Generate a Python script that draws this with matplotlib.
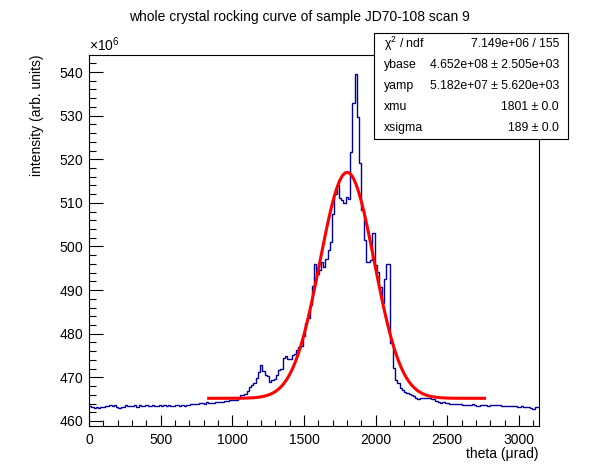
import numpy as np
import matplotlib
matplotlib.use("Agg")
import matplotlib.pyplot as plt
from matplotlib.patches import Rectangle
from matplotlib.ticker import MultipleLocator, ScalarFormatter

# -----------------------
# DATA
# -----------------------

title = "whole crystal rocking curve of sample JD70-108 scan 9"

theta_min = 0.0
theta_max = 3140.0

# bin contents, in units of 1e6 (arb. units)
intensity = [
    463.4, 463.3, 462.9, 463.1, 463.0, 463.3, 463.1, 463.4, 463.4, 463.6,
    463.4, 463.6, 463.3, 462.9, 463.3, 463.2, 463.7, 463.4, 463.5, 463.5,
    463.6, 463.3, 463.6, 463.5, 463.4, 463.7, 463.5, 463.4, 463.6, 463.5,
    463.4, 463.6, 463.5, 463.7, 463.4, 463.6, 463.5, 463.4, 463.7, 463.6,
    463.5, 463.6, 463.4, 463.7, 463.6, 463.8, 463.8, 463.9, 463.8, 464.1,
    464.1, 464.0, 464.3, 464.1, 464.2, 464.2, 464.3, 464.3, 464.4, 464.3,
    464.5, 464.5, 464.7, 464.7, 464.9, 464.9, 465.2, 466.0, 466.0, 466.3,
    466.8, 467.9, 468.3, 468.8, 469.8, 471.2, 472.8, 471.5, 470.5, 470.4,
    469.0, 469.5, 469.6, 470.5, 471.7, 472.0, 474.5, 474.9, 474.2, 474.2,
    475.2, 475.4, 476.3, 477.0, 477.2, 479.5, 482.4, 483.6, 486.6, 491.0,
    496.0, 493.6, 494.5, 496.4, 495.4, 497.1, 499.1, 501.0, 507.4, 512.0,
    514.1, 511.2, 510.7, 509.9, 511.4, 511.0, 521.6, 532.9, 539.5, 529.8,
    519.1, 508.4, 501.5, 496.5, 496.5, 496.9, 503.0, 495.8, 494.2, 490.8,
    487.0, 492.5, 496.0, 496.0, 477.8, 472.1, 469.5, 468.6, 467.5, 467.2,
    466.6, 466.4, 466.1, 466.0, 465.7, 465.2, 465.0, 465.2, 465.3, 465.2,
    465.3, 465.2, 465.0, 465.0, 464.6, 464.4, 464.2, 464.3, 464.1, 464.2,
    463.9, 464.0, 463.9, 464.0, 463.8, 463.8, 463.7, 463.6, 463.6, 463.6,
    463.8, 463.7, 463.4, 463.5, 463.6, 463.6, 463.6, 463.5, 463.7, 463.6,
    463.6, 463.7, 463.6, 463.4, 463.5, 463.4, 463.4, 463.5, 463.4, 463.5,
    463.3, 463.3, 463.4, 463.2, 463.3, 463.2, 462.9, 462.8, 463.1, 463.3,
]

# fit result (gaussian on a flat base), as printed in the stats box
fit_range = [835.0, 2760.0]
chi2, ndf = 7.149e+06, 155
ybase, ybase_err = 4.652e+08, 2.505e+03
yamp, yamp_err = 5.182e+07, 5.620e+03
xmu, xmu_err = 1801.0, 0.0
xsigma, xsigma_err = 189.0, 0.0

# -----------------------
# PLOT
# -----------------------

plt.rcParams['font.family'] = ['Liberation Sans', 'DejaVu Sans']
plt.rcParams['mathtext.fontset'] = 'custom'
plt.rcParams['mathtext.rm'] = 'Liberation Sans'
plt.rcParams['mathtext.it'] = 'Liberation Sans:italic'

W, H = 598, 474
fig = plt.figure(figsize=(W / 100, H / 100), dpi=100)
ax = fig.add_axes([89 / W, (H - 426) / H, (539 - 89) / W, (426 - 55) / H])

edges = np.linspace(theta_min, theta_max, len(intensity) + 1)
ax.stairs(np.array(intensity) * 1e6, edges, baseline=None,
          color='#000099', lw=1.0)

xf = np.linspace(fit_range[0], fit_range[1], 100)
yf = ybase + yamp * np.exp(-0.5 * ((xf - xmu) / xsigma) ** 2)
ax.plot(xf, yf, color='#ff0000', lw=2.2)

ax.set_xlim(theta_min, theta_max)
ax.set_ylim(458.85e6, 543.9e6)

ax.xaxis.set_major_locator(MultipleLocator(500))
ax.xaxis.set_minor_locator(MultipleLocator(100))
ax.yaxis.set_major_locator(MultipleLocator(10e6))
ax.yaxis.set_minor_locator(MultipleLocator(2e6))

fmt = ScalarFormatter(useMathText=True)
fmt.set_powerlimits((6, 6))
ax.yaxis.set_major_formatter(fmt)
ax.yaxis.get_offset_text().set_fontsize(10)

ax.tick_params(which='both', direction='in', top=False, right=False,
               labelsize=10, width=0.8)
ax.tick_params(axis='x', which='major', length=8, pad=5)
ax.tick_params(axis='x', which='minor', length=4)
ax.tick_params(axis='y', which='major', length=10, pad=4)
ax.tick_params(axis='y', which='minor', length=5)
for s in ax.spines.values():
    s.set_linewidth(0.8)

ax.set_xlabel("theta (\u03bcrad)", loc='right', fontsize=10, labelpad=0)
ax.set_ylabel("intensity (arb. units)", loc='top', fontsize=10, labelpad=11)

fig.text(0.5, 1 - 17 / H, title, ha='center', va='center', fontsize=10)

# stats box
bx0, bx1, by0, by1 = 374, 568, 33, 139
fig.patches.append(Rectangle((bx0 / W, 1 - by1 / H), (bx1 - bx0) / W,
                             (by1 - by0) / H, transform=fig.transFigure,
                             facecolor='white', edgecolor='black', lw=0.8))
rows = [
    ("\u03c7$^{2}$ / ndf", "%.3e / %d" % (chi2, ndf)),
    ("ybase", "%.3e \u00b1 %.3e" % (ybase, ybase_err)),
    ("yamp", "%.3e \u00b1 %.3e" % (yamp, yamp_err)),
    ("xmu", "%.0f \u00b1 %.1f" % (xmu, xmu_err)),
    ("xsigma", "%.0f \u00b1 %.1f" % (xsigma, xsigma_err)),
]
rh = (by1 - by0) / len(rows)
for i, (name, val) in enumerate(rows):
    yc = 1 - (by0 + rh * (i + 0.5)) / H
    fig.text(384 / W, yc, name, ha='left', va='center', fontsize=8.8)
    fig.text(559 / W, yc, val, ha='right', va='center', fontsize=8.8)

fig.savefig("out.png", dpi=100)
